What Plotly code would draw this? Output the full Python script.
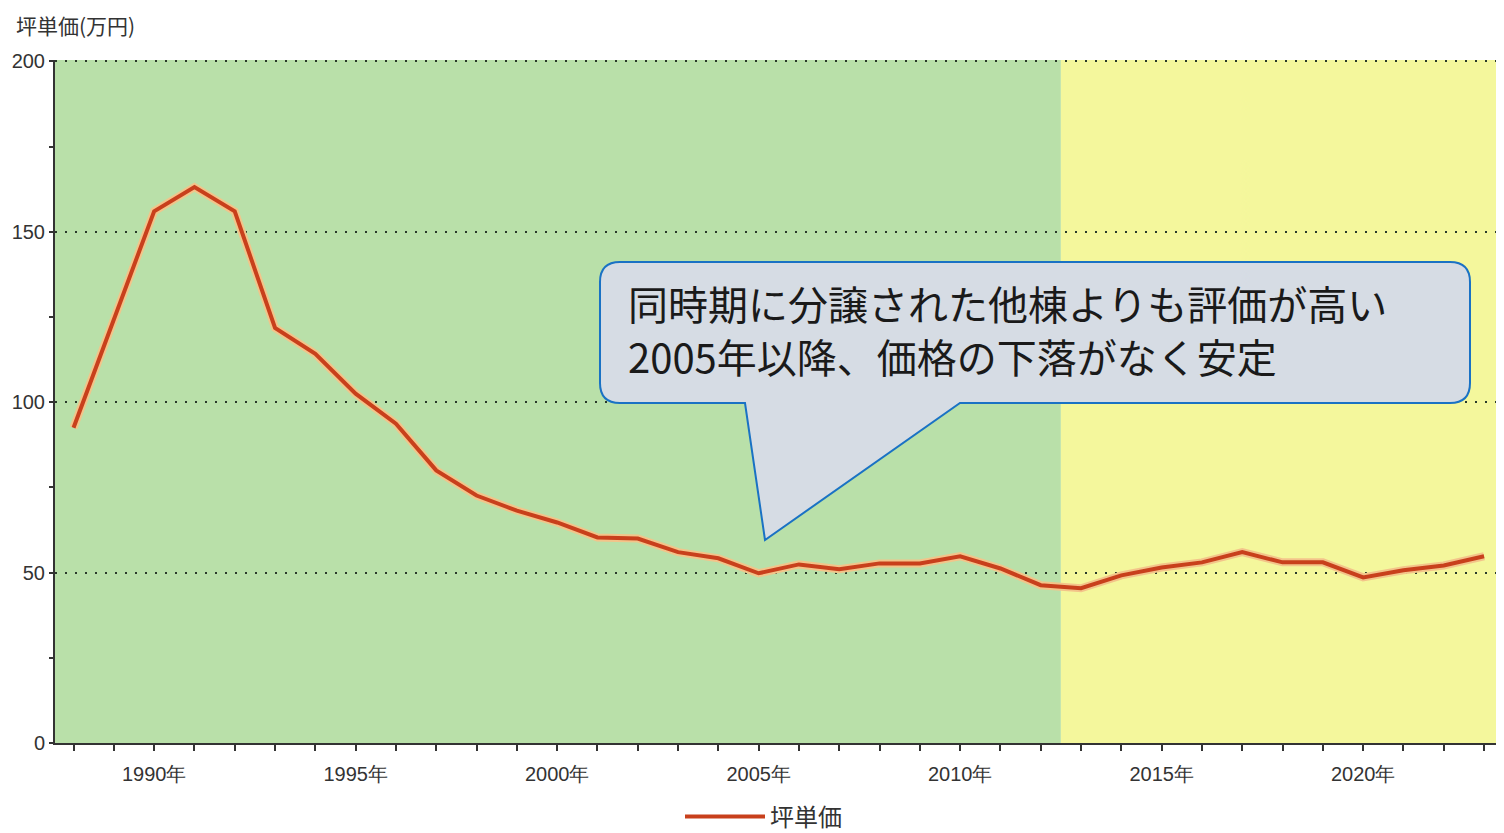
import plotly.graph_objects as go

# ---- data ----
years = list(range(1988, 2024))
price = [92.5, 124.0, 156.0, 163.1, 156.0, 121.8, 114.2, 102.5, 93.7, 80.0,
         72.6, 68.2, 64.7, 60.3, 60.0, 56.0, 54.2, 49.8, 52.4, 51.0,
         52.7, 52.7, 54.8, 51.2, 46.3, 45.4, 49.2, 51.5, 53.0, 56.0,
         53.0, 53.0, 48.6, 50.7, 52.1, 54.8]
series_name = "坪単価"
tick_years = [1990, 1995, 2000, 2005, 2010, 2015, 2020]
tick_labels = ["1990年", "1995年", "2000年", "2005年", "2010年", "2015年", "2020年"]
y_ticks = [0, 50, 100, 150, 200]
period_split = 2012.5
y_title = "坪単価(万円)"
callout_lines = ["同時期に分譲された他棟よりも評価が高い",
                 "2005年以降、価格の下落がなく安定"]

# ---- layout geometry (page pixels; page body has an 8px margin) ----
OFF = 8
PAGE_W, PAGE_H = 1504, 833
W, H = PAGE_W - OFF, PAGE_H - OFF
PL, PR, PT, PB = 55, 1503, 60, 743          # plot area in page pixels
ML, MR, MT, MB = PL - OFF, PAGE_W - PR, PT - OFF, PAGE_H - PB
PW, PH = PR - PL, PB - PT
X_MIN, X_MAX = 1987.54, 2023.47

def px2paper(px, py):
    return (px - PL) / PW, (PB - py) / PH

fig = go.Figure()

# halo line
fig.add_trace(go.Scatter(x=years, y=price, mode="lines",
                         line=dict(color="#f3c48a", width=8),
                         showlegend=False, hoverinfo="skip"))
fig.add_trace(go.Scatter(x=years, y=price, mode="lines", name=series_name,
                         line=dict(color="#c8401c", width=4)))

# background periods
fig.add_shape(type="rect", xref="x", yref="paper", x0=X_MIN, x1=period_split,
              y0=0, y1=1, fillcolor="#b9e0a9", line_width=0, layer="below")
fig.add_shape(type="rect", xref="x", yref="paper", x0=period_split, x1=X_MAX,
              y0=0, y1=1, fillcolor="#f4f79c", line_width=0, layer="below")

# callout balloon
r = 20
L_, R_, T_, B_ = 600, 1470, 262, 403
pts = [("M", (L_ + r, T_)), ("L", (R_ - r, T_)), ("Q", (R_, T_), (R_, T_ + r)),
       ("L", (R_, B_ - r)), ("Q", (R_, B_), (R_ - r, B_)), ("L", (960, B_)),
       ("L", (765, 540)), ("L", (745, B_)), ("L", (L_ + r, B_)),
       ("Q", (L_, B_), (L_, B_ - r)), ("L", (L_, T_ + r)), ("Q", (L_, T_), (L_ + r, T_))]
path = ""
for p in pts:
    cmd = p[0]
    coords = " ".join("%.5f,%.5f" % px2paper(*c) for c in p[1:])
    path += f"{cmd} {coords} "
path += "Z"
fig.add_shape(type="path", xref="paper", yref="paper", path=path,
              fillcolor="#d6dce4", line=dict(color="#1a72c4", width=2), layer="above")

for line_text, line_y in zip(callout_lines, [303, 356]):
    cx, cy = px2paper(626, line_y)
    fig.add_annotation(xref="paper", yref="paper", x=cx, y=cy, xanchor="left",
                       yanchor="middle", align="left", showarrow=False,
                       text=line_text,
                       font=dict(family="Noto Sans CJK JP", size=40, color="#1a1a1a"))

# axis title at top-left
tx, ty = px2paper(14, 25)
fig.add_annotation(xref="paper", yref="paper", x=tx, y=ty, xanchor="left",
                   yanchor="middle", showarrow=False, text=y_title,
                   font=dict(family="Noto Sans CJK JP", size=21, color="#333333"))

fig.update_layout(
    width=W, height=H,
    margin=dict(l=ML, r=MR, t=MT, b=MB, autoexpand=False),
    paper_bgcolor="#ffffff", plot_bgcolor="#ffffff",
    font=dict(family="Liberation Sans, Arial", color="#333333"),
    showlegend=True,
    legend=dict(orientation="h", x=(680 - PL) / PW, y=(PB - 817) / PH,
                xanchor="left", yanchor="middle", bgcolor="rgba(0,0,0,0)",
                itemwidth=80,
                font=dict(family="Noto Sans CJK JP", size=24, color="#333333")),
)
fig.update_xaxes(range=[X_MIN, X_MAX], tickvals=tick_years, ticktext=tick_labels,
                 ticks="outside", ticklen=6, tickwidth=1.5, tickcolor="#333",
                 minor=dict(dtick=1, tick0=1988, ticks="outside", ticklen=6,
                            tickwidth=1.5, tickcolor="#333"),
                 showline=True, linecolor="#333", linewidth=2, automargin=False,
                 showgrid=False, zeroline=False, ticklabelstandoff=6,
                 tickfont=dict(size=20, color="#333", family="Liberation Sans, Arial"))
fig.update_yaxes(range=[0, 200.4], tickvals=y_ticks,
                 ticks="outside", ticklen=4, tickwidth=1.5, tickcolor="#333",
                 minor=dict(dtick=25, ticks="outside", ticklen=4, tickwidth=1.5,
                            tickcolor="#333"),
                 showline=True, linecolor="#333", linewidth=2, automargin=False,
                 showgrid=True, gridcolor="#2a3a2a", gridwidth=2, griddash="2px,8px",
                 zeroline=False,
                 tickfont=dict(size=20, color="#333", family="Liberation Sans, Arial"))

fig.write_html("out.html")
